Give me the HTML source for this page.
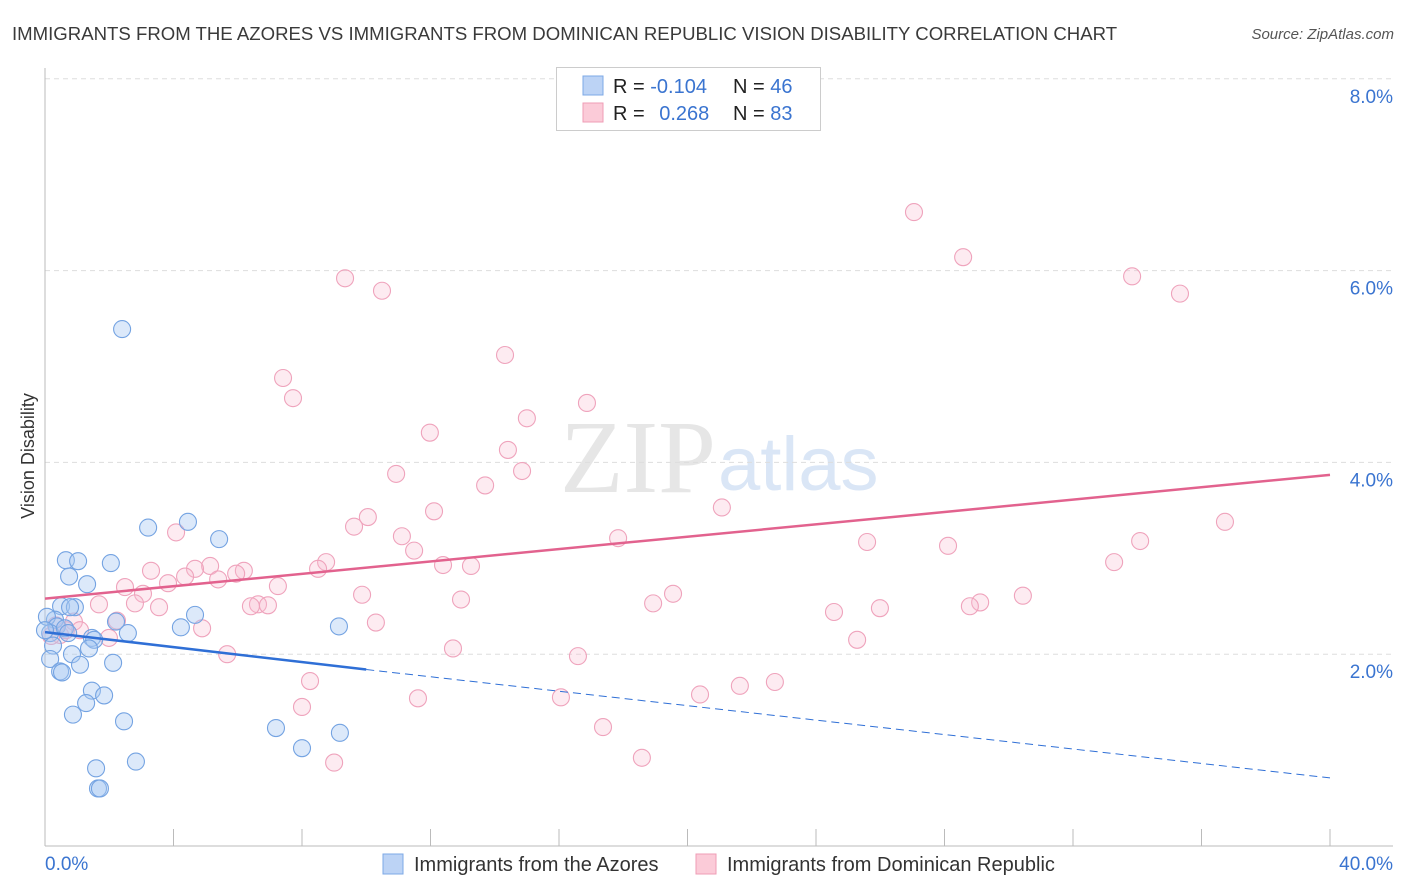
<!DOCTYPE html>
<html><head><meta charset="utf-8">
<style>
body{margin:0;background:#fff;font-family:"Liberation Sans",sans-serif;}
svg{display:block}
</style></head>
<body>
<svg id="chart" width="1406" height="892" xmlns="http://www.w3.org/2000/svg">
<text x="12" y="40" font-size="18.6" fill="#3a3a3a" font-family="Liberation Sans, sans-serif">IMMIGRANTS FROM THE AZORES VS IMMIGRANTS FROM DOMINICAN REPUBLIC VISION DISABILITY CORRELATION CHART</text>
<text x="1394" y="39" font-size="15" font-style="italic" fill="#555" text-anchor="end">Source: ZipAtlas.com</text>
<text x="716" y="492" font-size="104" fill="#e6e6e6" text-anchor="end" font-family="Liberation Serif, serif">ZIP</text>
<text x="718" y="490" font-size="76" fill="#dae6f6">atlas</text>
<g id="grid"></g>
<g id="axes"></g>
<g id="marks"></g>
<text transform="translate(34,456) rotate(-90)" font-size="18" fill="#333" text-anchor="middle">Vision Disability</text>
<g>
<rect x="556.5" y="67.5" width="264" height="63" fill="#fff" stroke="#ccc"/>
<rect x="583" y="76" width="20" height="19" fill="#bcd3f5" stroke="#7da8e6"/>
<rect x="583" y="103" width="20" height="19" fill="#fbcbd8" stroke="#ef9db6"/>
<text x="613" y="93" font-size="20" fill="#222">R = <tspan fill="#3a74d0">-0.104</tspan></text>
<text x="733" y="93" font-size="20" fill="#222">N = <tspan fill="#3a74d0">46</tspan></text>
<text x="613" y="120" font-size="20" fill="#222">R = <tspan fill="#3a74d0" dx="9">0.268</tspan></text>
<text x="733" y="120" font-size="20" fill="#222">N = <tspan fill="#3a74d0">83</tspan></text>
</g>
<g>
<rect x="383" y="854" width="20" height="20" fill="#bcd3f5" stroke="#7da8e6"/>
<text x="414" y="871" font-size="20" fill="#333">Immigrants from the Azores</text>
<rect x="696" y="854" width="20" height="20" fill="#fbcbd8" stroke="#ef9db6"/>
<text x="727" y="871" font-size="20" fill="#333">Immigrants from Dominican Republic</text>
</g>
</svg>
<script>
const xTicks=[0,4,8,12,16,20,24,28,32,36,40];
const yTicks=[2,4,6,8];
const yTickLabels=["2.0%","4.0%","6.0%","8.0%"];
const xEndLabels=["0.0%","40.0%"];
const azoresX=[2.40,4.45,3.21,5.42,0.65,1.03,2.05,0.75,1.31,0.50,0.93,0.78,0.31,4.67,2.21,0.06,0.37,2.58,4.23,9.15,0.16,1.46,1.53,0.25,1.37,0.84,0.16,1.09,2.12,0.47,0.53,1.46,1.84,1.28,0.87,2.46,7.19,8.00,9.18,2.83,1.59,1.65,1.71,0.62,0.0,0.72];
const azoresY=[5.39,3.38,3.32,3.20,2.98,2.97,2.95,2.81,2.73,2.50,2.49,2.49,2.36,2.41,2.34,2.39,2.29,2.22,2.28,2.29,2.22,2.17,2.15,2.09,2.06,2.00,1.95,1.89,1.91,1.82,1.81,1.62,1.57,1.49,1.37,1.30,1.23,1.02,1.18,0.88,0.81,0.60,0.60,2.27,2.25,2.22];
const domX=[27.05,28.58,33.84,9.34,10.49,35.33,14.32,7.41,7.72,16.87,15.00,11.98,14.41,10.93,14.85,13.70,21.07,12.11,10.05,9.62,4.08,36.73,11.11,17.84,25.59,28.11,34.09,11.49,8.75,5.14,33.28,12.39,13.26,8.50,3.30,6.19,4.67,5.95,4.36,3.83,5.39,7.25,2.49,3.05,9.87,12.95,19.55,30.44,29.11,18.93,1.68,2.80,3.55,6.63,6.94,6.41,25.99,28.79,24.56,2.24,10.30,0.90,4.89,1.09,0.47,0.19,25.28,1.99,12.70,5.67,16.59,8.25,22.72,21.63,20.39,11.61,16.06,8.00,17.37,9.00,18.58,0.65,0.34];
const domY=[6.61,6.14,5.94,5.92,5.79,5.76,5.12,4.88,4.67,4.62,4.46,4.31,4.13,3.88,3.91,3.76,3.53,3.49,3.43,3.33,3.27,3.38,3.23,3.21,3.17,3.13,3.18,3.08,2.96,2.92,2.96,2.93,2.92,2.89,2.87,2.87,2.89,2.84,2.81,2.74,2.78,2.71,2.70,2.63,2.62,2.57,2.63,2.61,2.54,2.53,2.52,2.53,2.49,2.52,2.51,2.50,2.48,2.50,2.44,2.35,2.33,2.34,2.27,2.25,2.20,2.19,2.15,2.17,2.06,2.00,1.98,1.72,1.71,1.67,1.58,1.54,1.55,1.45,1.24,0.87,0.92,2.25,2.30];
const azoresTrendX=[0,10,40];
const azoresTrendY=[2.23,1.84,0.71];
const domTrendX=[0,40];
const domTrendY=[2.58,3.87];

const NS="http://www.w3.org/2000/svg";
const sx=v=>45+v*32.125;
const sy=v=>846-v*95.9;
function mk(tag,attrs,parent){const e=document.createElementNS(NS,tag);for(const k in attrs)e.setAttribute(k,attrs[k]);parent.appendChild(e);return e;}
const grid=document.getElementById('grid'),axes=document.getElementById('axes'),marks=document.getElementById('marks');
yTicks.forEach((t,i)=>{
  const l=mk('line',{x1:45,x2:1393,y1:sy(t),y2:sy(t),stroke:'#ddd','stroke-dasharray':'5,4'},grid);
  
  
  const tx=mk('text',{x:1393,y:sy(t)+24,'font-size':19,fill:'#3a74d0','text-anchor':'end'},axes);
  tx.textContent=yTickLabels[i];
  
  
});
const ax=mk('line',{x1:45,x2:1393,y1:846,y2:846,stroke:'#bbb'},axes);


const ay=mk('line',{x1:45,x2:45,y1:68,y2:846,stroke:'#bbb'},axes);


xTicks.forEach(t=>{
  const l=mk('line',{x1:sx(t),x2:sx(t),y1:829,y2:846,stroke:'#bbb'},axes);
  
  
});
[[0,'start',45],[1,'end',1393]].forEach(([i,a,x])=>{
  const tx=mk('text',{x:x,y:870,'font-size':19,fill:'#3a74d0','text-anchor':a},axes);
  tx.textContent=xEndLabels[i];
  
  
});
domX.forEach((v,i)=>{
  const c=mk('circle',{cx:sx(v),cy:sy(domY[i]),r:8.5,fill:'rgba(250,190,208,0.3)',stroke:'#efa3bc','stroke-width':1.1},marks);
  
  
});
azoresX.forEach((v,i)=>{
  const c=mk('circle',{cx:sx(v),cy:sy(azoresY[i]),r:8.5,fill:'rgba(168,200,242,0.4)',stroke:'#74a3e2','stroke-width':1.1},marks);
  
  
});
const d1=mk('line',{x1:sx(domTrendX[0]),y1:sy(domTrendY[0]),x2:sx(domTrendX[1]),y2:sy(domTrendY[1]),stroke:'#e2628e','stroke-width':2.5},marks);


const a1=mk('line',{x1:sx(azoresTrendX[0]),y1:sy(azoresTrendY[0]),x2:sx(azoresTrendX[1]),y2:sy(azoresTrendY[1]),stroke:'#2f6fd6','stroke-width':2.5},marks);


const a2=mk('line',{x1:sx(azoresTrendX[1]),y1:sy(azoresTrendY[1]),x2:sx(azoresTrendX[2]),y2:sy(azoresTrendY[2]),stroke:'#2f6fd6','stroke-width':1,'stroke-dasharray':'8,5'},marks);


</script>
</body></html>
